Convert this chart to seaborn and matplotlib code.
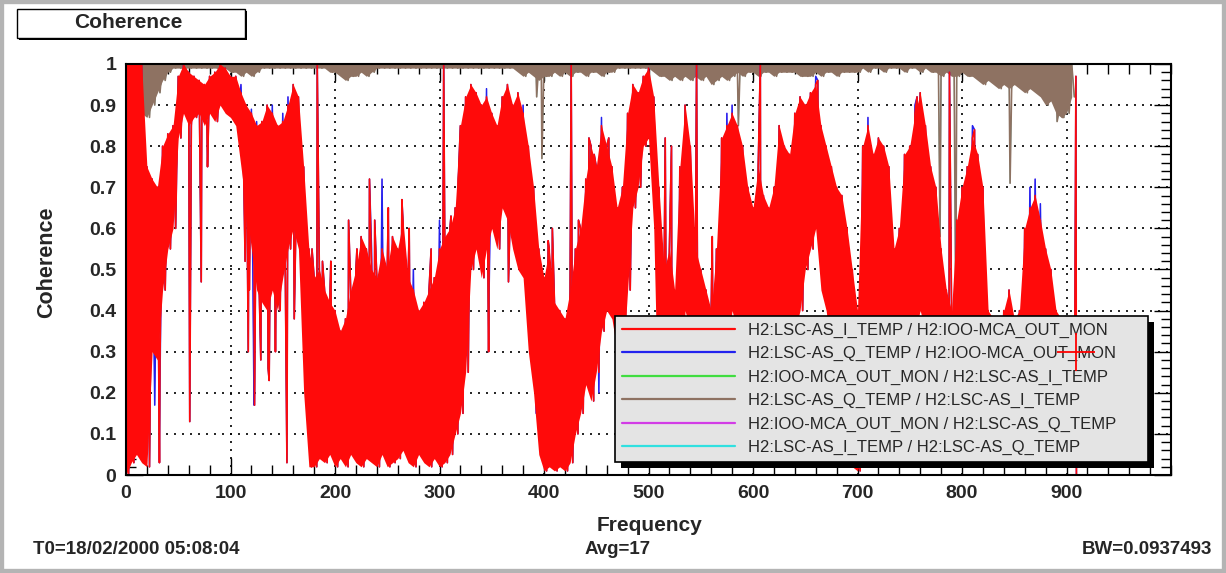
import numpy as np
import pandas as pd
import seaborn as sns
import matplotlib.pyplot as plt
from matplotlib.patches import Rectangle
from matplotlib.lines import Line2D
from matplotlib.ticker import MultipleLocator, FuncFormatter

freq = list(range(0, 910, 5))

# Upper / lower edge of the dense red trace (I_TEMP / OUT_MON)
red_hi = [
    1.00, 1.00, 1.00, 1.00, 0.75, 0.72, 0.70, 0.80, 0.83, 0.85,
    0.97, 1.00, 0.98, 0.97, 0.96, 0.95, 0.97, 0.98, 1.00, 0.99,
    0.97, 0.97, 0.93, 0.90, 0.88, 0.85, 0.86, 0.90, 0.88, 0.85,
    0.86, 0.90, 0.95, 0.92, 0.75, 0.55, 0.48, 0.50, 0.45, 0.42,
    0.40, 0.35, 0.38, 0.45, 0.50, 0.58, 0.55, 0.50, 0.48, 0.55,
    0.50, 0.58, 0.55, 0.62, 0.48, 0.45, 0.40, 0.42, 0.45, 0.48,
    0.55, 0.58, 0.60, 0.65, 0.85, 0.92, 0.95, 0.93, 0.90, 0.92,
    0.88, 0.85, 0.92, 0.95, 0.90, 0.93, 0.88, 0.80, 0.70, 0.55,
    0.48, 0.55, 0.42, 0.40, 0.38, 0.45, 0.55, 0.60, 0.72, 0.80,
    0.75, 0.85, 0.80, 0.75, 0.65, 0.70, 0.88, 0.95, 0.93, 0.97,
    0.99, 0.92, 0.70, 0.50, 0.55, 0.45, 0.75, 0.90, 0.80, 0.55,
    0.50, 0.45, 0.40, 0.55, 0.82, 0.85, 0.88, 0.85, 0.80, 0.70,
    0.65, 0.75, 0.68, 0.65, 0.70, 0.85, 0.80, 0.78, 0.88, 0.92,
    0.90, 0.93, 0.95, 0.85, 0.80, 0.75, 0.70, 0.68, 0.60, 0.50,
    0.40, 0.80, 0.85, 0.78, 0.82, 0.80, 0.75, 0.55, 0.60, 0.78,
    0.80, 0.88, 0.93, 0.85, 0.75, 0.70, 0.55, 0.45, 0.40, 0.62,
    0.70, 0.75, 0.82, 0.78, 0.70, 0.40, 0.38, 0.35, 0.40, 0.45,
    0.38, 0.40, 0.60, 0.65, 0.68, 0.62, 0.55, 0.50, 0.40, 0.38,
    0.35, 0.38,
]
red_lo = [
    0.00, 0.03, 0.05, 0.03, 0.02, 0.30, 0.28, 0.45, 0.55, 0.60,
    0.82, 0.88, 0.85, 0.87, 0.88, 0.85, 0.88, 0.86, 0.90, 0.88,
    0.87, 0.85, 0.75, 0.65, 0.55, 0.45, 0.42, 0.40, 0.45, 0.40,
    0.48, 0.55, 0.60, 0.55, 0.20, 0.02, 0.02, 0.04, 0.03, 0.05,
    0.02, 0.04, 0.02, 0.05, 0.03, 0.02, 0.04, 0.03, 0.02, 0.05,
    0.02, 0.03, 0.04, 0.06, 0.03, 0.02, 0.05, 0.03, 0.02, 0.04,
    0.02, 0.03, 0.05, 0.10, 0.15, 0.25, 0.50, 0.55, 0.48, 0.55,
    0.60, 0.55, 0.65, 0.62, 0.55, 0.50, 0.48, 0.30, 0.20, 0.05,
    0.01, 0.02, 0.01, 0.02, 0.01, 0.03, 0.10, 0.15, 0.22, 0.18,
    0.25, 0.35, 0.40, 0.38, 0.30, 0.25, 0.45, 0.65, 0.70, 0.80,
    0.82, 0.60, 0.05, 0.02, 0.02, 0.05, 0.10, 0.40, 0.35, 0.05,
    0.02, 0.03, 0.02, 0.05, 0.15, 0.30, 0.40, 0.35, 0.15, 0.05,
    0.02, 0.10, 0.05, 0.02, 0.05, 0.15, 0.20, 0.30, 0.35, 0.40,
    0.50, 0.55, 0.60, 0.45, 0.40, 0.30, 0.20, 0.15, 0.05, 0.02,
    0.01, 0.05, 0.20, 0.25, 0.30, 0.35, 0.25, 0.05, 0.05, 0.15,
    0.25, 0.35, 0.40, 0.35, 0.30, 0.25, 0.10, 0.02, 0.02, 0.10,
    0.25, 0.30, 0.35, 0.30, 0.20, 0.05, 0.02, 0.02, 0.02, 0.05,
    0.02, 0.03, 0.10, 0.20, 0.25, 0.20, 0.10, 0.05, 0.02, 0.02,
    0.02, 0.02,
]
# isolated spikes of the red trace (freq, coherence)
red_spikes = [
    (32, 0.03), (61, 0.13), (72, 0.47), (78, 0.75), (114, 0.52),
    (117, 0.30), (118, 0.45), (123, 0.17), (129, 0.28), (136, 0.26),
    (137, 0.23), (143, 0.30), (154, 0.03), (161, 0.38), (178, 0.55),
    (183, 1.00), (188, 0.52), (196, 0.52), (213, 0.62), (221, 0.55),
    (233, 0.72), (238, 0.62), (251, 0.65), (264, 0.67), (271, 0.60),
    (292, 0.55), (304, 1.00), (311, 0.63), (318, 0.72), (347, 0.30),
    (366, 0.47), (404, 0.57), (408, 0.60), (426, 1.00), (433, 0.62),
    (443, 0.82), (448, 0.78), (462, 0.82), (516, 0.82), (522, 0.80),
    (546, 1.00), (561, 0.58), (607, 1.00), (662, 0.96), (701, 0.30),
    (757, 0.92), (788, 0.98), (812, 0.84), (909, 0.97), (909.5, 0.00),
]

# blue trace (Q_TEMP / OUT_MON) follows red except where it peeks out
blue_hi_peaks = {110: 0.95, 120: 0.89, 125: 0.86, 140: 0.90, 150: 0.88,
                 155: 0.92, 235: 0.55, 245: 0.72, 275: 0.50, 300: 0.62,
                 345: 0.94, 380: 0.90, 455: 0.87, 575: 0.88, 580: 0.90,
                 660: 0.97, 710: 0.87, 755: 0.90, 810: 0.85, 865: 0.70,
                 870: 0.72, 875: 0.66}
blue_lo_dips = {25: 0.17, 30: 0.22, 120: 0.17, 345: 0.45,
                390: 0.15, 450: 0.20}

# brown trace (Q_TEMP / I_TEMP), stays near 1
brown_top = 1.0
brown_lo = [
    0.70, 0.72, 0.90, 0.88, 0.87, 0.90, 0.93, 0.96, 0.98, 0.99,
    0.99, 0.99, 0.99, 0.99, 0.99, 0.99, 0.99, 0.99, 0.99, 0.99,
    0.98, 0.98, 0.97, 0.98, 0.97, 0.98, 0.99, 0.99, 0.99, 0.99,
    0.99, 0.99, 0.99, 0.99, 0.99, 0.99, 0.99, 0.99, 0.99, 0.98,
    0.98, 0.97, 0.96, 0.97, 0.97, 0.98, 0.97, 0.98, 0.99, 0.99,
    0.99, 0.99, 0.99, 0.99, 0.99, 0.99, 0.99, 0.99, 0.99, 0.99,
    0.99, 0.99, 0.99, 0.99, 0.99, 0.99, 0.99, 0.99, 0.99, 0.99,
    0.99, 0.99, 0.99, 0.99, 0.99, 0.98, 0.97, 0.98, 0.97, 0.96,
    0.97, 0.97, 0.98, 0.97, 0.98, 0.97, 0.98, 0.98, 0.97, 0.98,
    0.98, 0.97, 0.98, 0.98, 0.99, 0.99, 0.99, 0.99, 0.99, 0.99,
    0.99, 0.98, 0.97, 0.97, 0.96, 0.97, 0.96, 0.97, 0.96, 0.97,
    0.96, 0.97, 0.95, 0.96, 0.97, 0.96, 0.97, 0.98, 0.97, 0.98,
    0.98, 0.97, 0.98, 0.98, 0.97, 0.98, 0.98, 0.98, 0.98, 0.97,
    0.97, 0.97, 0.98, 0.97, 0.98, 0.98, 0.97, 0.98, 0.98, 0.98,
    0.98, 0.99, 0.98, 0.99, 0.99, 0.98, 0.99, 0.99, 0.99, 0.98,
    0.99, 0.99, 0.98, 0.99, 0.98, 0.98, 0.97, 0.98, 0.97, 0.97,
    0.98, 0.97, 0.97, 0.96, 0.95, 0.96, 0.95, 0.94, 0.95, 0.94,
    0.95, 0.94, 0.93, 0.94, 0.93, 0.92, 0.90, 0.91, 0.88, 0.87,
    0.88, 0.92,
]
brown_spikes = [(393, 0.92), (398, 0.77), (586, 0.85), (779, 0.58),
                (794, 0.40), (846, 0.71), (891, 0.86), (896, 0.87)]

labels = [
    'H2:LSC-AS_I_TEMP / H2:IOO-MCA_OUT_MON',
    'H2:LSC-AS_Q_TEMP / H2:IOO-MCA_OUT_MON',
    'H2:IOO-MCA_OUT_MON / H2:LSC-AS_I_TEMP',
    'H2:LSC-AS_Q_TEMP / H2:LSC-AS_I_TEMP',
    'H2:IOO-MCA_OUT_MON / H2:LSC-AS_Q_TEMP',
    'H2:LSC-AS_I_TEMP / H2:LSC-AS_Q_TEMP',
]
colors = ['#ff0a0a', '#2222ee', '#40dd40', '#8e7262', '#d23ce6', '#30e0e0']
cursor = (909, 0.30)


def trace(hi, lo, spikes=()):
    # zigzag between the read upper and lower edges, plus isolated spikes
    x, y = [], []
    for f, h, l in zip(freq, hi, lo):
        x += [f, f + 2.5]
        y += [h, l]
    for f, v in spikes:
        x.append(f)
        y.append(v)
    df = pd.DataFrame({'Frequency': x, 'Coherence': y})
    return df.sort_values('Frequency', kind='stable')


blue_hi = [blue_hi_peaks.get(f, h) for f, h in zip(freq, red_hi)]
blue_lo = [blue_lo_dips.get(f, l) for f, l in zip(freq, red_lo)]
brown_hi = [brown_top] * len(freq)

red_df = trace(red_hi, red_lo, red_spikes)
blue_df = trace(blue_hi, blue_lo, red_spikes)
brown_df = trace(brown_hi, brown_lo, brown_spikes)

sns.set_style("ticks")
plt.rcParams['font.family'] = ['Liberation Sans', 'DejaVu Sans']

W, H = 1226, 573
fig = plt.figure(figsize=(W / 100, H / 100), dpi=100)
fig.patch.set_facecolor('white')
ax = fig.add_axes([126 / W, 98 / H, 1045 / W, 411 / H])
ax.set_axisbelow(True)

# (data, band to fill or None, colour, line width, zorder)
# the symmetric twins (cyan, magenta, green) lie exactly under the visible ones
layers = [(brown_df, None, colors[5], 0.6, 1.0),
          (blue_df, None, colors[4], 0.6, 1.1),
          (red_df, None, colors[2], 0.6, 1.2),
          (brown_df, (brown_lo, brown_hi), colors[3], 1.2, 1.5),
          (blue_df, None, colors[1], 1.1, 1.8),
          (red_df, (red_lo, red_hi), colors[0], 1.2, 2.0)]
for df, band, c, lw, z in layers:
    if band is not None:
        # the noise is so dense that the trace reads as a solid band
        ax.fill_between(freq, band[0], band[1], color=c, linewidth=0,
                        zorder=z)
    sns.lineplot(data=df, x='Frequency', y='Coherence', estimator=None,
                 sort=False, color=c, linewidth=lw, ax=ax, legend=False,
                 zorder=z + 0.05)

ax.plot([cursor[0]], [cursor[1]], marker='+', ms=28, mew=1.3, color='red',
        zorder=10, clip_on=False)

ax.set_xlim(0, 1000)
ax.set_ylim(0, 1)
ax.set_xticks(range(0, 1000, 100))
ax.xaxis.set_minor_locator(MultipleLocator(20))
ax.yaxis.set_major_locator(MultipleLocator(0.1))
ax.yaxis.set_minor_locator(MultipleLocator(0.02))
ax.yaxis.set_major_formatter(FuncFormatter(lambda v, p: f'{v:g}'))
ax.tick_params(which='both', direction='in', top=True, right=True,
               width=1.0, color='black')
ax.tick_params(which='major', length=12, pad=7, labelsize=14)
ax.tick_params(which='minor', length=7)
for lab in ax.get_xticklabels() + ax.get_yticklabels():
    lab.set_fontweight('bold')
ax.grid(True, which='major', color='black', linestyle=(0, (1.2, 3.6)),
        linewidth=1.2)
for spine in ax.spines.values():
    spine.set_linewidth(1.5)
    spine.set_color('black')

ax.set_xlabel('Frequency', fontsize=15, fontweight='bold')
ax.set_ylabel('Coherence', fontsize=15.5, fontweight='bold')
ax.xaxis.set_label_coords(0.501, -0.10)
ax.yaxis.set_label_coords(-0.066, 0.518)

handles = [Line2D([], [], color=c, lw=1.6) for c in colors]
leg = ax.legend(handles, labels, loc='upper left',
                bbox_to_anchor=(0.468, 0.0, 0.510, 0.387), mode='expand',
                borderaxespad=0, fontsize=12, handlelength=6.8,
                handletextpad=0.75, labelspacing=0.5, borderpad=0.4,
                frameon=True, fancybox=False, framealpha=1)
leg.get_frame().set_facecolor('#e4e4e4')
leg.get_frame().set_edgecolor('black')
leg.get_frame().set_linewidth(1.2)

# black drop shadow behind the legend box
fig.canvas.draw()
bb = leg.get_frame().get_window_extent()
inv = fig.transFigure.inverted()
(x0, y0), (x1, y1) = inv.transform([(bb.x0 + 6, bb.y0 - 6), (bb.x1 + 6, bb.y1 - 6)])
ax.add_patch(Rectangle((x0, y0), x1 - x0, y1 - y0, transform=fig.transFigure,
                       facecolor='black', edgecolor='none', zorder=4.9,
                       clip_on=False))

# pad title box with shadow
fig.add_artist(Rectangle((19 / W, 1 - 40 / H), 228 / W, 29 / H,
                         transform=fig.transFigure, fc='black', ec='none'))
fig.add_artist(Rectangle((17 / W, 1 - 38 / H), 228 / W, 29 / H,
                         transform=fig.transFigure, fc='white', ec='black', lw=1))
fig.text(128 / W, 1 - 23 / H, 'Coherence', ha='center', va='center',
         fontsize=15, fontweight='bold')

fig.text(33 / W, 1 - 550 / H, 'T0=18/02/2000 05:08:04', ha='left',
         va='center', fontsize=13.5, fontweight='bold')
fig.text(618 / W, 1 - 550 / H, 'Avg=17', ha='center', va='center',
         fontsize=13.5, fontweight='bold')
fig.text(1212 / W, 1 - 550 / H, 'BW=0.0937493', ha='right', va='center',
         fontsize=13.5, fontweight='bold')

# window border
fig.add_artist(Rectangle((0, 0), 1, 1, transform=fig.transFigure,
                         fill=False, ec='#b4b4b4', lw=6))

fig.savefig('out.png', dpi=100)
